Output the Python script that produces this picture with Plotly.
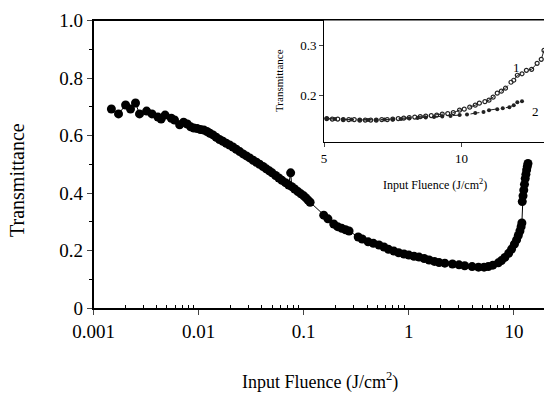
import plotly.graph_objects as go

# Main curve: input fluence (J/cm^2) vs transmittance
main_fluence = [0.00148, 0.00173, 0.00202, 0.00225, 0.00251, 0.00274, 0.0032, 0.0036, 0.0041, 0.0044,
                0.0048, 0.0055, 0.0059, 0.0066, 0.0072, 0.0078, 0.0084, 0.0090, 0.0097, 0.0104,
                0.0112, 0.0120, 0.0128, 0.0137, 0.0147, 0.0158, 0.0170, 0.0183, 0.0197, 0.0212,
                0.0228, 0.0246, 0.0265, 0.0285, 0.0306, 0.0330, 0.0355, 0.0380, 0.0410, 0.0440,
                0.0470, 0.0500, 0.0540, 0.0580, 0.0620, 0.0670, 0.0720, 0.0751, 0.0770, 0.0820,
                0.0880, 0.0940, 0.1000, 0.1050, 0.1100, 0.1150, 0.155, 0.170, 0.193, 0.210,
                0.230, 0.250, 0.270, 0.330, 0.360, 0.410, 0.460, 0.520, 0.580, 0.640,
                0.720, 0.800, 0.900, 1.00, 1.12, 1.25, 1.40, 1.56, 1.75, 1.94,
                2.2, 2.6, 3.0, 3.4, 4.0, 4.6, 5.2, 5.7, 6.3, 7.1,
                7.6, 8.2, 8.9, 9.5, 10.1, 10.6, 11.0, 11.4, 11.7, 11.9,
                12.0, 12.2, 12.4, 12.6, 12.8, 13.0, 13.2, 13.4, 13.6]
main_trans = [0.692, 0.675, 0.706, 0.692, 0.713, 0.675, 0.685, 0.675, 0.664, 0.657,
              0.671, 0.660, 0.654, 0.637, 0.646, 0.640, 0.630, 0.626, 0.624, 0.621,
              0.619, 0.614, 0.608, 0.602, 0.594, 0.586, 0.580, 0.573, 0.567, 0.560,
              0.552, 0.544, 0.536, 0.529, 0.522, 0.514, 0.507, 0.500, 0.492, 0.484,
              0.477, 0.470, 0.461, 0.452, 0.444, 0.436, 0.428, 0.470, 0.422, 0.414,
              0.405, 0.397, 0.390, 0.383, 0.375, 0.368, 0.323, 0.310, 0.292, 0.283,
              0.277, 0.272, 0.268, 0.247, 0.240, 0.230, 0.225, 0.219, 0.212, 0.204,
              0.198, 0.192, 0.188, 0.184, 0.180, 0.177, 0.172, 0.167, 0.162, 0.158,
              0.156, 0.153, 0.150, 0.147, 0.144, 0.142, 0.142, 0.144, 0.149, 0.157,
              0.165, 0.176, 0.190, 0.205, 0.222, 0.237, 0.252, 0.268, 0.283, 0.296,
              0.370, 0.390, 0.410, 0.430, 0.450, 0.465, 0.480, 0.492, 0.503]

# Inset series 1 and 2
s1_fluence = [5.1, 5.3, 5.5, 5.7, 5.9, 6.1, 6.3, 6.5, 6.7, 6.9, 7.1, 7.3, 7.5, 7.7, 7.9,
              8.1, 8.3, 8.5, 8.7, 8.9, 9.1, 9.3, 9.5, 9.7, 9.93, 10.1, 10.3, 10.5, 10.65,
              10.85, 11.0, 11.15, 11.3, 11.45, 11.6, 11.8, 11.9, 12.03, 12.2, 12.36, 12.55,
              12.75, 12.9, 13.0]
s1_trans = [0.153, 0.152, 0.152, 0.151, 0.151, 0.151, 0.150, 0.150, 0.150, 0.150, 0.151,
            0.151, 0.152, 0.153, 0.154, 0.155, 0.156, 0.157, 0.158, 0.159, 0.160, 0.162,
            0.163, 0.165, 0.170, 0.172, 0.176, 0.180, 0.184, 0.187, 0.190, 0.196, 0.204,
            0.208, 0.214, 0.226, 0.230, 0.240, 0.243, 0.250, 0.252, 0.264, 0.272, 0.290]
s2_fluence = [5.1, 5.4, 5.7, 6.0, 6.3, 6.6, 6.9, 7.2, 7.5, 7.8, 8.1, 8.4, 8.7, 9.0, 9.3,
              9.6, 9.93, 10.2, 10.5, 10.8, 11.0, 11.3, 11.5, 11.74, 11.9, 12.03, 12.2]
s2_trans = [0.153, 0.152, 0.151, 0.151, 0.150, 0.150, 0.150, 0.151, 0.151, 0.152, 0.153,
            0.154, 0.155, 0.156, 0.157, 0.158, 0.160, 0.161, 0.164, 0.166, 0.170, 0.172,
            0.174, 0.176, 0.180, 0.186, 0.188]

main_xticks = [0.001, 0.01, 0.1, 1, 10]
main_xticktext = ["0.001", "0.01", "0.1", "1", "10"]
main_yticks = [0, 0.2, 0.4, 0.6, 0.8, 1.0]
main_yticktext = ["0", "0.2", "0.4", "0.6", "0.8", "1.0"]
inset_xticks = [5, 10]
inset_yticks = [0.2, 0.3]
minor_xticks = [m * d for d in main_xticks for m in range(2, 10)]

W, H = 544, 395
FONT = "Liberation Serif"

fig = go.Figure()
fig.add_trace(go.Scatter(x=main_fluence, y=main_trans, mode="lines+markers",
                         line=dict(color="black", width=1),
                         marker=dict(color="black", size=9, symbol="circle"),
                         xaxis="x", yaxis="y", showlegend=False))
fig.add_trace(go.Scatter(x=s1_fluence, y=s1_trans, mode="lines+markers",
                         line=dict(color="#222", width=1, dash="dash"),
                         marker=dict(color="#222", size=4, symbol="circle-open", line=dict(width=1.2)),
                         xaxis="x2", yaxis="y2", showlegend=False))
fig.add_trace(go.Scatter(x=s2_fluence, y=s2_trans, mode="lines+markers",
                         line=dict(color="#222", width=1, dash="dash"),
                         marker=dict(color="#222", size=4, symbol="circle"),
                         xaxis="x2", yaxis="y2", showlegend=False))

x0 = 93.5 / W
fig.update_layout(
    width=W, height=H,
    margin=dict(l=0, r=0, t=0, b=0),
    paper_bgcolor="white", plot_bgcolor="white",
    font=dict(family=FONT, color="black"),
    xaxis=dict(type="log", domain=[x0, 1], range=[-3, 1.286], tickvals=main_xticks,
               ticktext=main_xticktext, ticks="outside", ticklen=5, tickwidth=1,
               tickfont=dict(size=19, family=FONT), showgrid=False, zeroline=False,
               showline=True, linecolor="black", linewidth=1.5, mirror=True,
               minor=dict(ticks="inside", ticklen=3, tickcolor="black", showgrid=False,
                          tickvals=minor_xticks),
               automargin=False, anchor="y"),
    yaxis=dict(domain=[(H - 308) / H, (H - 20.5) / H], range=[0, 1], tickvals=main_yticks,
               ticktext=main_yticktext, ticks="outside", ticklen=5, tickwidth=1,
               tickfont=dict(size=19, family=FONT), showgrid=False, zeroline=False,
               showline=True, linecolor="black", linewidth=1.5,
               minor=dict(ticks="outside", ticklen=3, dtick=0.1, tickcolor="black", showgrid=False),
               automargin=False, anchor="x"),
    xaxis2=dict(domain=[324 / W, 1], range=[5, 13], tickvals=inset_xticks, ticks="outside",
                ticklen=4, tickfont=dict(size=13, family=FONT), showgrid=False, zeroline=False,
                showline=True, linecolor="black", linewidth=1, automargin=False, anchor="y2"),
    yaxis2=dict(domain=[(H - 142) / H, (H - 20.5) / H], range=[0.106, 0.35], tickvals=inset_yticks,
                ticktext=["0.2", "0.3"], ticks="outside", ticklen=4,
                tickfont=dict(size=13, family=FONT), showgrid=False, zeroline=False,
                showline=True, linecolor="black", linewidth=1, automargin=False, anchor="x2"),
    annotations=[
        dict(text="Transmittance", x=17 / W, y=(H - 180) / H, xref="paper", yref="paper",
             textangle=-90, showarrow=False, font=dict(size=20, family=FONT),
             xanchor="center", yanchor="middle"),
        dict(text="Input Fluence (J/cm<sup>2</sup>)", x=320 / W, y=(H - 381) / H,
             xref="paper", yref="paper", showarrow=False, font=dict(size=18, family=FONT),
             xanchor="center", yanchor="middle"),
        dict(text="Transmittance", x=279 / W, y=(H - 81) / H, xref="paper", yref="paper",
             textangle=-90, showarrow=False, font=dict(size=11, family=FONT),
             xanchor="center", yanchor="middle"),
        dict(text="Input Fluence (J/cm<sup>2</sup>)", x=435 / W, y=(H - 184) / H,
             xref="paper", yref="paper", showarrow=False, font=dict(size=12, family=FONT),
             xanchor="center", yanchor="middle"),
        dict(text="1", x=12.0, y=0.255, xref="x2", yref="y2", showarrow=False,
             font=dict(size=13, family=FONT)),
        dict(text="2", x=12.7, y=0.167, xref="x2", yref="y2", showarrow=False,
             font=dict(size=13, family=FONT)),
    ],
)

fig.write_html("out.html")
